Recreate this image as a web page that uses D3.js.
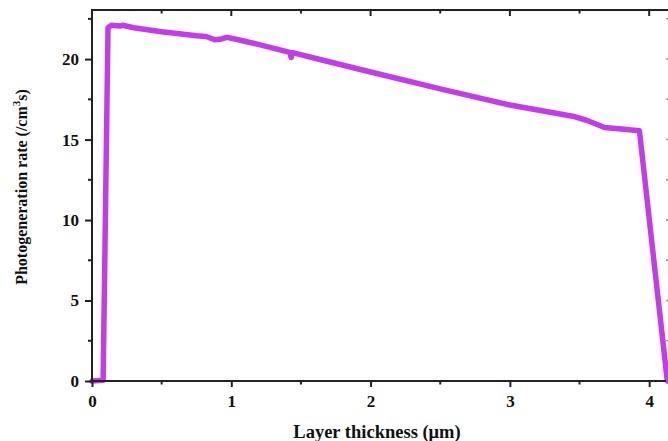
<!DOCTYPE html>
<html><head><meta charset="utf-8">
<script src="https://cdn.jsdelivr.net/npm/d3@7"></script>
<style>
body{margin:0;background:#fff;}
svg{display:block;}
text{font-family:"Liberation Serif","Times New Roman",serif;font-weight:bold;fill:#111;}
</style></head><body>
<svg id="c" width="668" height="441"></svg>
<script>
// Data
const thickness = [0, 0.08, 0.115, 0.14, 0.2, 0.22, 0.3, 0.5, 0.75, 0.82, 0.88, 0.93, 0.97, 1.05, 1.2, 1.42, 1.43, 1.44, 1.6, 2.0, 2.5, 3.0, 3.45, 3.55, 3.68, 3.8, 3.93, 4.13];
const rate      = [0, 0.05, 21.95, 22.1, 22.05, 22.1, 21.95, 21.7, 21.45, 21.4, 21.2, 21.25, 21.35, 21.2, 20.9, 20.42, 20.1, 20.4, 20.05, 19.2, 18.15, 17.15, 16.45, 16.2, 15.75, 15.65, 15.55, 0];
const xTicks = [0, 1, 2, 3, 4];
const xMinor = [0.5, 1.5, 2.5, 3.5];
const yTicks = [0, 5, 10, 15, 20];
const yMinor = [2.5, 7.5, 12.5, 17.5, 22.5];
const xTitle = "Layer thickness (\u03bcm)";

const svg = d3.select("#c");
const L = 92, R = 671, T = 10, B = 381;
const x = d3.scaleLinear().domain([0, 4.1566]).range([L, R]);
const y = d3.scaleLinear().domain([0, 23.05]).range([B, T]);

const color = "#c23de8";
const line = d3.line().x((d,i)=>x(thickness[i])).y((d,i)=>y(rate[i])).curve(d3.curveLinear);
svg.append("path").datum(rate).attr("d", line).attr("fill","none")
  .attr("stroke", color).attr("stroke-width", 5.5).attr("stroke-linejoin","round").attr("stroke-linecap","round");

// frame
svg.append("rect").attr("x",L).attr("y",T).attr("width",R-L).attr("height",B-T)
  .attr("fill","none").attr("stroke","#222").attr("stroke-width",2);

// bottom axis
const gx = svg.append("g").attr("transform",`translate(0,${B})`)
  .call(d3.axisBottom(x).tickValues(xTicks).tickSize(6).tickFormat(d3.format("d")));
gx.select(".domain").remove();
gx.selectAll("line").attr("stroke","#222").attr("stroke-width",2);
gx.selectAll("text").attr("font-size",17).attr("dy","1.0em").style("font-family","Liberation Serif").style("font-weight","bold");
svg.append("g").selectAll("line").data(xMinor).join("line")
  .attr("x1",d=>x(d)).attr("x2",d=>x(d)).attr("y1",B).attr("y2",B+3.5).attr("stroke","#222").attr("stroke-width",2);
// top ticks inward
svg.append("g").selectAll("line").data(xTicks).join("line")
  .attr("x1",d=>x(d)).attr("x2",d=>x(d)).attr("y1",T).attr("y2",T+6).attr("stroke","#222").attr("stroke-width",2);
svg.append("g").selectAll("line").data(xMinor).join("line")
  .attr("x1",d=>x(d)).attr("x2",d=>x(d)).attr("y1",T).attr("y2",T+3.5).attr("stroke","#222").attr("stroke-width",2);

// left axis
const gy = svg.append("g").attr("transform",`translate(${L},0)`)
  .call(d3.axisLeft(y).tickValues(yTicks).tickSize(7).tickFormat(d3.format("d")));
gy.select(".domain").remove();
gy.selectAll("line").attr("stroke","#222").attr("stroke-width",2);
gy.selectAll("text").attr("font-size",17).attr("x",-13).style("font-family","Liberation Serif").style("font-weight","bold");
svg.append("g").selectAll("line").data(yMinor).join("line")
  .attr("x1",L-4).attr("x2",L).attr("y1",d=>y(d)).attr("y2",d=>y(d)).attr("stroke","#222").attr("stroke-width",2);
// right ticks inward
svg.append("g").selectAll("line").data(yTicks.concat(yMinor)).join("line")
  .attr("x1",R-5).attr("x2",R).attr("y1",d=>y(d)).attr("y2",d=>y(d)).attr("stroke","#999").attr("stroke-width",1.5);

// titles
svg.append("text").attr("x",377).attr("y",438).attr("text-anchor","middle").attr("font-size",18.5).text(xTitle);
const yt = svg.append("text").attr("transform","translate(27,187) rotate(-90)").attr("text-anchor","middle").attr("font-size",16);
yt.append("tspan").text("Photogeneration rate (/cm");
yt.append("tspan").attr("dy",-7).attr("font-size",11).text("3");
yt.append("tspan").attr("dy",7).text("s)");
</script>
</body></html>
